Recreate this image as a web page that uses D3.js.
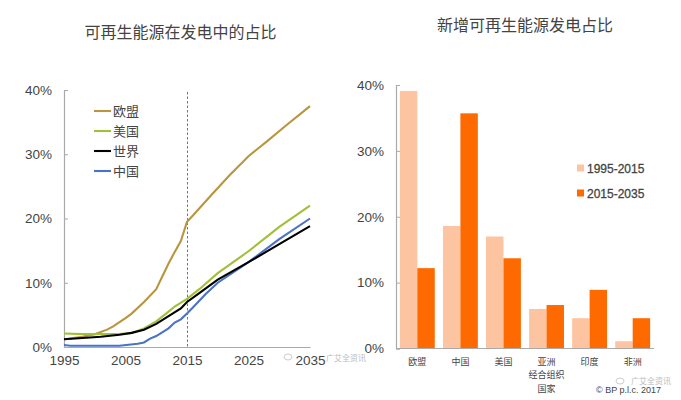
<!DOCTYPE html>
<html>
<head>
<meta charset="utf-8">
<script src="https://d3js.org/d3.v7.min.js"></script>
<style>
  html, body { margin: 0; padding: 0; background: #fff; }
  text { font-family: "Liberation Sans", "Noto Sans CJK SC", sans-serif; fill: #444; }
</style>
</head>
<body>
<svg id="chart" width="681" height="400"></svg>
<script>
var euYears = [1995, 1998, 2000, 2002, 2003, 2005, 2006, 2008, 2010, 2011, 2012, 2013, 2014, 2015, 2016, 2019, 2022, 2025, 2028, 2031, 2035];
var euValues = [1.2, 1.6, 2.0, 2.7, 3.2, 4.5, 5.2, 7.0, 9.0, 11.0, 13.0, 14.8, 16.5, 19.5, 20.5, 23.7, 26.8, 29.7, 32.0, 34.4, 37.5];

var usYears = [1995, 1998, 2001, 2004, 2006, 2008, 2010, 2012, 2013, 2015, 2017, 2020, 2025, 2030, 2035];
var usValues = [2.1, 2.0, 2.0, 2.0, 2.2, 2.9, 4.0, 5.5, 6.3, 7.5, 9.0, 11.5, 14.9, 18.7, 22.0];

var worldYears = [1995, 1998, 2001, 2004, 2006, 2008, 2010, 2012, 2014, 2015, 2017, 2020, 2025, 2030, 2035];
var worldValues = [1.2, 1.4, 1.6, 1.9, 2.2, 2.7, 3.6, 4.8, 6.0, 7.0, 8.4, 10.5, 13.2, 16.0, 18.8];

var chinaYears = [1995, 1996, 2000, 2004, 2007, 2008, 2009, 2010, 2012, 2013, 2014, 2015, 2016, 2018, 2020, 2025, 2030, 2035];
var chinaValues = [0.3, 0.2, 0.2, 0.2, 0.5, 0.7, 1.3, 1.7, 2.9, 3.8, 4.3, 5.2, 6.2, 8.2, 10.0, 13.2, 16.8, 20.0];

var lineNames = ['欧盟', '美国', '世界', '中国'];
var lineColors = ['#b8963e', '#a2c037', '#000000', '#4a72c8'];
var xTicks = [1995, 2005, 2015, 2025, 2035];
var yTicks = [0, 10, 20, 30, 40];

var regions = ['欧盟', '中国', '美国', '亚洲\n经合组织\n国家', '印度', '非洲'];
var early = [39.1, 18.6, 17.0, 6.0, 4.6, 1.1];
var late = [12.2, 35.7, 13.7, 6.6, 8.9, 4.6];
var periods = ['1995-2015', '2015-2035'];
var barColors = ['#fcc4a0', '#ff6a00'];

var svg = d3.select('#chart');
var axisColor = '#aaa';
var pct = function(d) { return d + '%'; };

// left chart
var x = d3.scaleLinear().domain([1995, 2035]).range([64, 310]);
var y = d3.scaleLinear().domain([0, 40]).range([347, 90]);

var xAxisL = svg.append('g').attr('transform', 'translate(0,347)')
    .call(d3.axisBottom(x).tickValues(xTicks).tickFormat(d3.format('d')).tickSize(0).tickPadding(8));
var yAxisL = svg.append('g').attr('transform', 'translate(64,0)')
    .call(d3.axisLeft(y).tickValues(yTicks).tickFormat(pct).tickSize(-4).tickPadding(12));

[xAxisL, yAxisL].forEach(function(a) {
  a.select('.domain').attr('stroke', axisColor).attr('stroke-width', 1.2);
  a.selectAll('line').attr('stroke', axisColor);
  a.selectAll('text').style('font-size', '13.5px').style('font-family', '"Liberation Sans", sans-serif').attr('fill', '#444');
});

svg.append('line')
    .attr('x1', x(2015)+0.5).attr('x2', x(2015)+0.5)
    .attr('y1', 92).attr('y2', y(0))
    .attr('stroke', '#666').attr('stroke-dasharray', '2.5,2').attr('stroke-width', 0.9);

var line = d3.line()
    .x(function(d) { return x(d[0]); })
    .y(function(d) { return y(d[1]); });

var lineData = [
  d3.zip(euYears, euValues),
  d3.zip(usYears, usValues),
  d3.zip(worldYears, worldValues),
  d3.zip(chinaYears, chinaValues)
];

// china goes first so world and the others sit on top of it
[3, 0, 1, 2].forEach(function(i) {
  svg.append('path')
      .datum(lineData[i])
      .attr('d', line)
      .attr('fill', 'none')
      .attr('stroke', lineColors[i])
      .attr('stroke-width', 2.1);
});

lineNames.forEach(function(name, i) {
  var ly = 111 + i * 20;
  svg.append('line')
      .attr('x1', 94).attr('x2', 111)
      .attr('y1', ly).attr('y2', ly)
      .attr('stroke', lineColors[i]).attr('stroke-width', 2.1);
  svg.append('text')
      .attr('x', 113).attr('y', ly + 4.5)
      .style('font-size', '13px')
      .text(name);
});

svg.append('text')
    .attr('x', 180.5).attr('y', 38)
    .attr('text-anchor', 'middle')
    .style('font-size', '16px')
    .text('可再生能源在发电中的占比');

// right chart
var x0 = d3.scaleBand().domain(d3.range(regions.length)).range([396, 654]).paddingInner(0.19).paddingOuter(0.09);
var x1 = d3.scaleBand().domain([0, 1]).range([0, x0.bandwidth()]);
var yR = d3.scaleLinear().domain([0, 40]).range([348.5, 85]);

var barData = [early, late];
barData.forEach(function(vals, s) {
  svg.append('g').selectAll('rect')
      .data(vals)
      .enter().append('rect')
      .attr('x', function(d, i) { return x0(i) + x1(s); })
      .attr('width', x1.bandwidth())
      .attr('y', function(d) { return yR(d); })
      .attr('height', function(d) { return yR(0) - yR(d); })
      .attr('fill', barColors[s]);
});

var yAxisR = svg.append('g').attr('transform', 'translate(396,0)')
    .call(d3.axisLeft(yR).tickValues(yTicks).tickFormat(pct).tickSize(-4).tickPadding(12));
yAxisR.select('.domain').attr('stroke', axisColor).attr('stroke-width', 1.2);
yAxisR.selectAll('line').attr('stroke', axisColor);
yAxisR.selectAll('text').style('font-size', '13.5px').style('font-family', '"Liberation Sans", sans-serif').attr('fill', '#444');

svg.append('line')
    .attr('x1', 396).attr('x2', 654)
    .attr('y1', yR(0)).attr('y2', yR(0))
    .attr('stroke', axisColor).attr('stroke-width', 1.2);

regions.forEach(function(name, i) {
  name.split('\n').forEach(function(part, j) {
    svg.append('text')
        .attr('x', x0(i) + x0.bandwidth() / 2)
        .attr('y', 364.5 + j * 13.5)
        .attr('text-anchor', 'middle')
        .style('font-size', '9px')
        .text(part);
  });
});

periods.forEach(function(name, i) {
  var ly = 168 + i * 25;
  svg.append('rect')
      .attr('x', 577).attr('y', ly - 3.5)
      .attr('width', 7).attr('height', 7)
      .attr('fill', barColors[i]);
  svg.append('text')
      .attr('x', 587).attr('y', ly + 4.5)
      .style('font-size', '12px')
      .style('font-family', '"Liberation Sans", sans-serif')
      .style('stroke', '#444')
      .style('stroke-width', 0.3)
      .text(name);
});

svg.append('text')
    .attr('x', 525).attr('y', 31)
    .attr('text-anchor', 'middle')
    .style('font-size', '16px')
    .text('新增可再生能源发电占比');

svg.append('text')
    .attr('x', 596).attr('y', 393)
    .style('font-size', '9px')
    .style('font-family', '"Liberation Sans", sans-serif')
    .text('© BP p.l.c. 2017');

// faint watermarks
[[326, 361], [631, 384]].forEach(function(p) {
  svg.append('text')
      .attr('x', p[0]).attr('y', p[1])
      .style('font-size', '8px')
      .style('fill', '#bbb')
      .text('广艾全资讯');
});
svg.append('ellipse')
    .attr('cx', 288).attr('cy', 357)
    .attr('rx', 4).attr('ry', 3)
    .attr('fill', 'none').attr('stroke', '#ccc');
svg.append('ellipse')
    .attr('cx', 620).attr('cy', 381)
    .attr('rx', 4).attr('ry', 3)
    .attr('fill', 'none').attr('stroke', '#ccc');
</script>
</body>
</html>
